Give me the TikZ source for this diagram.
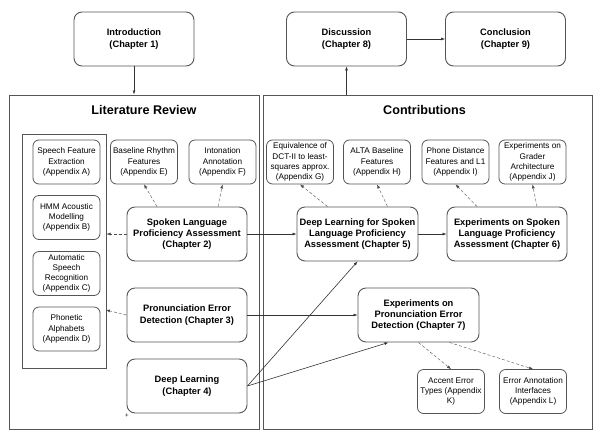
\documentclass[tikz,border=0pt]{standalone}
\usepackage{fontspec}
\setmainfont{Liberation Sans}
\usepackage{xcolor}
\usepackage{tikz}
\usetikzlibrary{arrows.meta}

\definecolor{linegray}{RGB}{85,85,85}

\tikzset{
    chapbox/.style={draw=linegray, line width=0.9pt, rounded corners=8pt,
        minimum width=120pt, minimum height=54pt, inner sep=1pt, align=center,
        font=\bfseries\fontsize{9.3}{11.3}\selectfont},
    appbox/.style={draw=linegray, line width=0.8pt, rounded corners=6pt,
        minimum width=67pt, minimum height=44pt, inner sep=1pt, align=center,
        font=\fontsize{8.2}{10.2}\selectfont},
    framebox/.style={draw=linegray, line width=1pt, inner sep=0pt},
    frametitle/.style={font=\bfseries\fontsize{12.6}{15}\selectfont},
    arr/.style={-{Latex[length=4pt,width=3pt]}, line width=0.6pt, black!80},
    dasharr/.style={-{Latex[length=4pt,width=3pt]}, densely dashed, line width=0.4pt, black!70}
}

\begin{document}
\begin{tikzpicture}[x=1pt, y=-1pt]

\useasboundingbox (0,0) rectangle (600,440);

% frames
\node[framebox, minimum width=250pt, minimum height=334pt] (litrev) at (134,262) {};
\node[framebox, minimum width=329pt, minimum height=334pt] (contrib) at (427.5,262) {};
\node[framebox, minimum width=84pt, minimum height=234pt] (appframe) at (64,251) {};
\node[frametitle] (littitle) at (144,110) {Literature Review};
\node[frametitle] (contitle) at (424.5,110) {Contributions};

% chapters
\node[chapbox] (intro) at (134,39) {Introduction\\(Chapter 1)};
\node[chapbox] (disc) at (346.5,39) {Discussion\\(Chapter 8)};
\node[chapbox] (concl) at (505.5,39) {Conclusion\\(Chapter 9)};
\node[chapbox] (ch2) at (187,234) {Spoken Language\\Proficiency Assessment\\(Chapter 2)};
\node[chapbox] (ch3) at (187,315) {Pronunciation Error\\Detection (Chapter 3)};
\node[chapbox] (ch4) at (187,386) {Deep Learning\\(Chapter 4)};
\node[chapbox, minimum width=121pt] (ch5) at (357.5,234) {Deep Learning for Spoken\\Language Proficiency\\Assessment (Chapter 5)};
\node[chapbox] (ch6) at (507,234) {Experiments on Spoken\\Language Proficiency\\Assessment (Chapter 6)};
\node[chapbox, minimum width=121pt] (ch7) at (418.5,315) {Experiments on\\Pronunciation Error\\Detection (Chapter 7)};
\node[font=\fontsize{6}{6}\selectfont] (plus) at (127,416) {+};

% appendices
\foreach \name/\x/\y/\txt in {
    apA/66.5/162/{Speech Feature\\Extraction\\(Appendix A)},
    apB/66.5/217.5/{HMM Acoustic\\Modelling\\(Appendix B)},
    apC/66.5/273.5/{Automatic\\Speech\\Recognition\\(Appendix C)},
    apD/66.5/329/{Phonetic\\Alphabets\\(Appendix D)},
    apE/144/162/{Baseline Rhythm\\Features\\(Appendix E)},
    apF/222.5/162/{Intonation\\Annotation\\(Appendix F)},
    apG/300/162/{Equivalence of\\DCT-II to least-\\squares approx.\\(Appendix G)},
    apH/377/162/{ALTA Baseline\\Features\\(Appendix H)},
    apI/455.5/162/{Phone Distance\\Features and L1\\(Appendix I)},
    apJ/532.5/162/{Experiments on\\Grader\\Architecture\\(Appendix J)},
    apK/451/391.5/{Accent Error\\Types (Appendix\\K)},
    apL/533/391.5/{Error Annotation\\Interfaces\\(Appendix L)}} {
    \node[appbox] (\name) at (\x,\y) {\txt};
}

% main flow
\draw[arr] (intro) -- (litrev);
\draw[arr] (contrib.north -| disc.south) -- (disc.south);
\draw[arr] (disc) -- (concl);
\draw[arr] (ch2.east) -- (ch5.west);
\draw[arr] (ch3.east) -- (ch7.west);
\draw[arr] (ch4.east) -- (ch5.south);
\draw[arr] (ch4.east) -- ([xshift=-30pt]ch7.south);
\draw[arr] (ch5.east) -- (ch6.west);

% appendix links
\coordinate (apDin) at (106,310);
\draw[dasharr] (ch2.west) -- (appframe.east |- ch2.west);
\draw[dasharr] (ch3.west) -- (apDin);
\draw[dasharr] ([xshift=-30pt]ch2.north) -- (apE.south);
\draw[dasharr] ([xshift=31pt]ch2.north) -- (apF.south);
\draw[dasharr] ([xshift=-30pt]ch5.north) -- (apG.south);
\draw[dasharr] ([xshift=30pt]ch5.north) -- (apH.south);
\draw[dasharr] ([xshift=-30pt]ch6.north) -- (apI.south);
\draw[dasharr] ([xshift=30pt]ch6.north) -- (apJ.south);
\draw[dasharr] (ch7.south) -- (apK.north);
\draw[dasharr] ([xshift=31pt]ch7.south) -- (apL.north);

\end{tikzpicture}
\end{document}
